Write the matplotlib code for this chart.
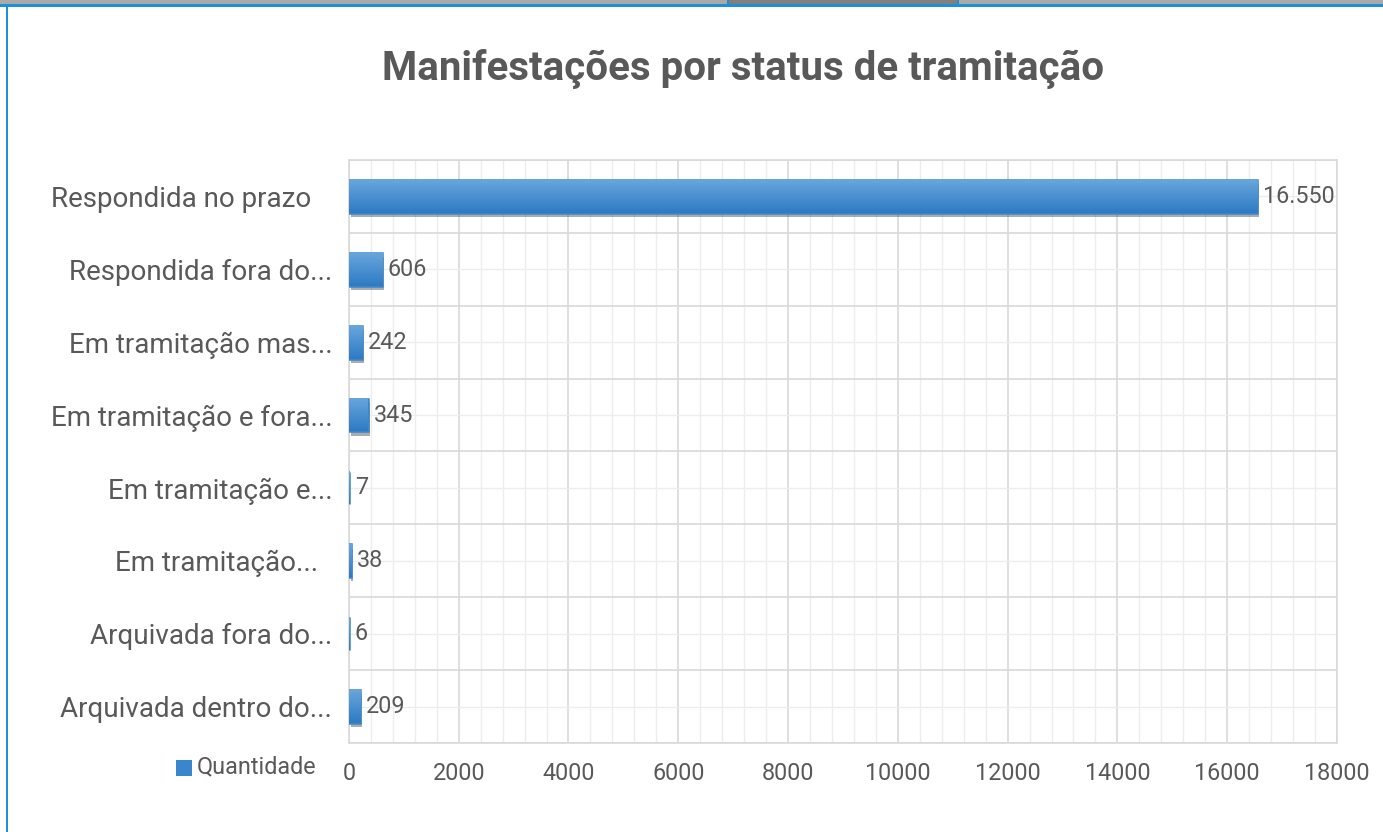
import numpy as np
import matplotlib
matplotlib.use("Agg")
import matplotlib.pyplot as plt
from matplotlib import patheffects
from matplotlib.patches import Rectangle
from matplotlib.ticker import MultipleLocator

plt.rcParams['font.family'] = ['Roboto', 'DejaVu Sans']

# data
categorias = ["Respondida no prazo   ", "Respondida fora do...", "Em tramitação mas...",
              "Em tramitação e fora...", "Em tramitação e...", "Em tramitação...  ",
              "Arquivada fora do...", "Arquivada dentro do..."]
quantidade = [16550, 606, 242, 345, 7, 38, 6, 209]
rotulos = ["16.550", "606", "242", "345", "7", "38", "6", "209"]
titulo = "Manifestações por status de tramitação"
serie = "Quantidade"

texto = "#595959"
azul = "#3a86cc"

fig = plt.figure(figsize=(13.83, 8.32), dpi=100)
ax = fig.add_axes([0.2523, 0.1070, 0.7144, 0.7007])

y = np.arange(len(categorias))
altura = 0.45
barras = ax.barh(y, quantidade, height=altura, color=azul, edgecolor=azul, linewidth=1.8, zorder=3)
for b in barras:
    b.set_path_effects([patheffects.SimplePatchShadow(offset=(1.5, -3), shadow_rgbFace="#303030", alpha=0.4),
                        patheffects.Normal()])

# vertical gradient over each bar (lighter on top)
grad = np.linspace(0, 1, 64).reshape(-1, 1)
cmap = matplotlib.colors.LinearSegmentedColormap.from_list("g", ["#68a5dc", "#2e7bc4"])
for yi, v in zip(y, quantidade):
    ax.imshow(grad, cmap=cmap, aspect="auto", zorder=4,
              extent=(0, v, yi + altura / 2, yi - altura / 2))

for yi, v, r in zip(y, quantidade, rotulos):
    ax.annotate(r, (v, yi), xytext=(4, 0), textcoords="offset points",
                va="center", ha="left", fontsize=16.8, color=texto, zorder=5)

ax.set_xlim(0, 18000)
ax.set_ylim(len(categorias) - 0.5, -0.5)
ax.set_yticks(y)
ax.set_yticklabels(categorias, fontsize=20)
ax.xaxis.set_major_locator(MultipleLocator(2000))
ax.xaxis.set_minor_locator(MultipleLocator(400))
ax.set_yticks(np.arange(len(categorias) + 1) - 0.5, minor=True)
ax.tick_params(axis="both", which="both", length=0, colors=texto)
ax.tick_params(axis="x", pad=14, labelsize=16.8)
ax.tick_params(axis="y", pad=12)

ax.grid(True, axis="x", which="major", color="#d9d9d9", linewidth=1.2, zorder=0)
ax.grid(True, axis="x", which="minor", color="#ededed", linewidth=1, zorder=0)
ax.grid(True, axis="y", which="minor", color="#d9d9d9", linewidth=1.2, zorder=0)
ax.grid(True, axis="y", which="major", color="#ededed", linewidth=1, zorder=0)
ax.set_axisbelow(True)
for s in ax.spines.values():
    s.set_color("#d9d9d9")
    s.set_linewidth(1.2)

fig.text(0.537, 0.917, titulo, ha="center", va="center", fontsize=29,
         fontweight="bold", color=texto)

# legend at the lower left
fig.patches.append(Rectangle((176 / 1383, 1 - 776 / 832), 16 / 1383, 16 / 832,
                             transform=fig.transFigure, facecolor=azul, edgecolor="none"))
fig.text(197 / 1383, 1 - 767 / 832, serie, ha="left", va="center", fontsize=16.8, color=texto)

# frame of the surrounding page
fig.patches.append(Rectangle((0, 1 - 5 / 832), 1, 5 / 832, transform=fig.transFigure,
                             facecolor="#a9a9a9", edgecolor="none"))
fig.patches.append(Rectangle((729 / 1383, 1 - 5 / 832), 228 / 1383, 5 / 832, transform=fig.transFigure,
                             facecolor="#808080", edgecolor="none"))
for xs in [727, 957]:
    fig.patches.append(Rectangle((xs / 1383, 1 - 5 / 832), 2 / 1383, 5 / 832, transform=fig.transFigure,
                                 facecolor="#1e90d8", edgecolor="none"))
fig.patches.append(Rectangle((0, 1 - 7 / 832), 1, 3 / 832, transform=fig.transFigure,
                             facecolor="#1e90d8", edgecolor="none"))
fig.patches.append(Rectangle((6 / 1383, 0), 2 / 1383, 1 - 5 / 832, transform=fig.transFigure,
                             facecolor="#1e90d8", edgecolor="none"))

fig.savefig("out.png", dpi=100)
